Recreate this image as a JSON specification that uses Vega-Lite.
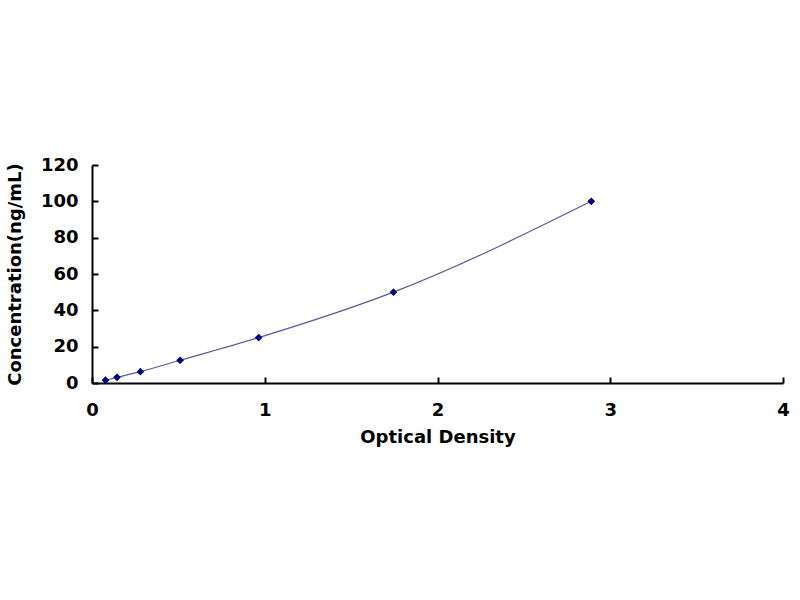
{
  "$schema": "https://vega.github.io/schema/vega-lite/v6.json",
  "autosize": "none",
  "width": 691,
  "height": 218,
  "padding": {"left": 92, "top": 165, "right": 17, "bottom": 217},
  "background": "white",
  "data": {
    "values": [
      {"od": 0.078, "conc": 1.56},
      {"od": 0.145, "conc": 3.12},
      {"od": 0.28, "conc": 6.25},
      {"od": 0.51, "conc": 12.5},
      {"od": 0.965, "conc": 25},
      {"od": 1.745, "conc": 50},
      {"od": 2.89, "conc": 100}
    ]
  },
  "encoding": {
    "x": {
      "field": "od",
      "type": "quantitative",
      "title": "Optical Density",
      "scale": {"domain": [0, 4], "nice": false},
      "axis": {"values": [0, 1, 2, 3, 4], "format": "d", "grid": false, "tickSize": -6, "labelPadding": 24, "labelFlush": false, "titlePadding": 9}
    },
    "y": {
      "field": "conc",
      "type": "quantitative",
      "title": "Concentration(ng/mL)",
      "scale": {"domain": [0, 120], "nice": false},
      "axis": {"values": [0, 20, 40, 60, 80, 100, 120], "grid": false, "tickSize": -6, "labelPadding": 20, "labelFlush": false, "titlePadding": 16}
    }
  },
  "layer": [
    {"mark": {"type": "line", "interpolate": "monotone", "color": "#5a5a9a", "strokeWidth": 1.2}},
    {"mark": {"type": "point", "shape": "diamond", "filled": true, "color": "#000080", "size": 60, "opacity": 1}}
  ],
  "config": {
    "view": {"stroke": null},
    "axis": {
      "domainColor": "black",
      "domainWidth": 2,
      "tickColor": "black",
      "tickWidth": 2,
      "labelFont": "DejaVu Sans",
      "labelFontSize": 18,
      "labelFontWeight": "bold",
      "labelColor": "black",
      "labelOverlap": false,
      "titleFont": "DejaVu Sans",
      "titleFontSize": 18,
      "titleFontWeight": "bold",
      "titleColor": "black"
    }
  }
}
